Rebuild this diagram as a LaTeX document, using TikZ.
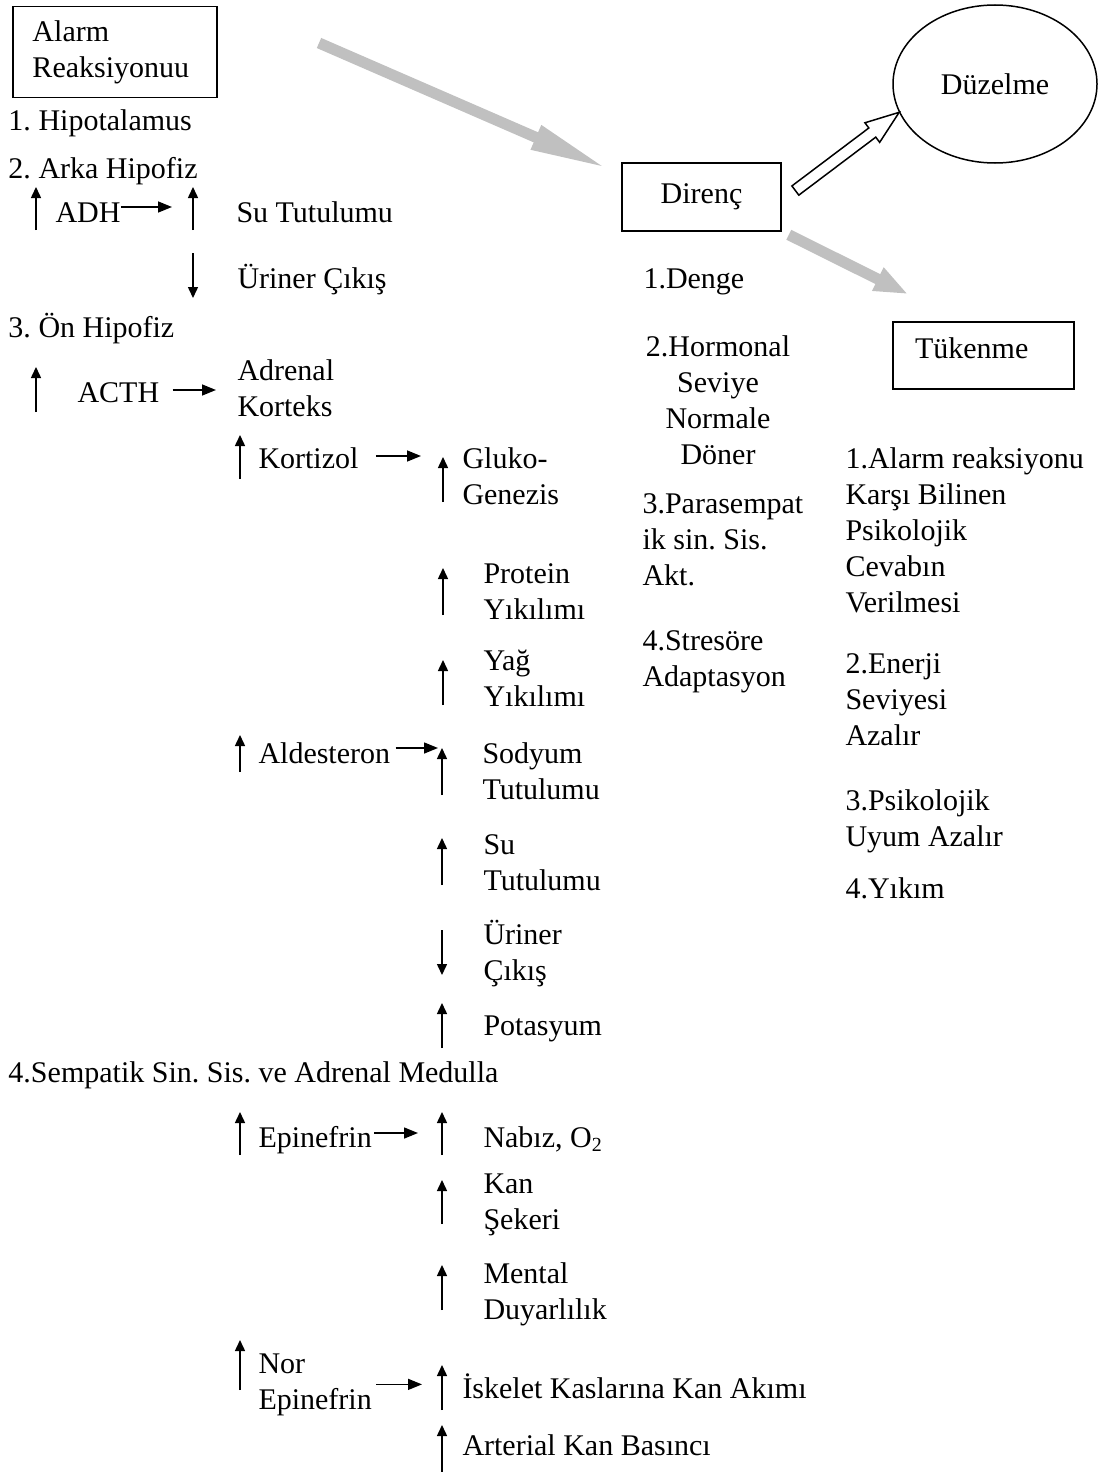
\documentclass[tikz,border=0pt]{standalone}
\usepackage{fontspec}
\setmainfont{Liberation Serif}
\usetikzlibrary{positioning, arrows.meta, calc, shapes.geometric, shapes.arrows}
\definecolor{arrowGray}{HTML}{C0C0C0}

\begin{document}
\begin{tikzpicture}[
    x=0.4pt, y=-0.4pt,
    font=\fontsize{12pt}{14.4pt}\selectfont\frenchspacing,
    box/.style={draw, line width=0.6pt, inner sep=0pt},
    txt/.style={anchor=base west, inner sep=0pt, align=left},
    upMark/.style={line width=0.6pt, -{Triangle[length=4.4pt, width=4pt]}},
    hArrow/.style={line width=0.6pt, -{Triangle[length=5.6pt, width=4.4pt]}},
    bigArrow/.style={color=arrowGray, line width=4.4pt, -{Triangle[length=#1, width=9.4pt]}},
    openArrow/.style={single arrow, draw, fill=white, line width=0.6pt, inner sep=2pt,
        single arrow head extend=2.6pt, single arrow tip angle=40}
]
\useasboundingbox (0,0) rectangle (1098,1472);

\node[box, minimum width=81.6pt, minimum height=36.4pt, text width=66pt, align=left] (alarm) at (115,52) {Alarm\\Reaksiyonuu};
\node[txt] (hipo) at (8,131) {1. Hipotalamus};
\node[txt] (arka) at (8,178) {2. Arka Hipofiz};
\node[txt] (adh) at (55,222) {ADH};
\node[txt] (suT1) at (236,222) {Su Tutulumu};
\node[txt] (urin1) at (237,288) {Üriner Çıkış};
\node[txt] (onHip) at (8,337) {3. Ön Hipofiz};
\node[txt] (acth) at (77,402) {ACTH};
\node[txt] (adrenal) at (237,416) {Adrenal\\Korteks};
\node[txt] (kortizol) at (258,468) {Kortizol};
\node[txt] (gluko) at (462,504) {Gluko-\\Genezis};
\node[txt] (protein) at (483,619) {Protein\\Yıkılımı};
\node[txt] (yag) at (483,706) {Yağ\\Yıkılımı};
\node[txt] (aldes) at (258,763) {Aldesteron};
\node[txt] (sodyum) at (482,799) {Sodyum\\Tutulumu};
\node[txt] (suT2) at (483,890) {Su\\Tutulumu};
\node[txt] (urin2) at (483,980) {Üriner\\Çıkış};
\node[txt] (potasyum) at (483,1035) {Potasyum};
\node[txt] (sempatik) at (8,1082) {4.Sempatik Sin. Sis. ve Adrenal Medulla};
\node[txt] (epi) at (258,1147) {Epinefrin};
\node[txt] (nabiz) at (483,1147) {Nabız, O\textsubscript{2}};
\node[txt] (kan) at (483,1229) {Kan\\Şekeri};
\node[txt] (mental) at (483,1319) {Mental\\Duyarlılık};
\node[txt] (nor) at (258,1409) {Nor\\Epinefrin};
\node[txt] (iskelet) at (462,1398) {İskelet Kaslarına Kan Akımı};
\node[txt] (arterial) at (462,1455) {Arterial Kan Basıncı};

\node[box, minimum width=63.6pt, minimum height=27.2pt] (direnc) at (701.5,197) {Direnç};
\node[txt] (denge) at (643,288) {1.Denge};
\node[anchor=base, inner sep=0pt, align=center] (hormonal) at (718,464) {2.Hormonal\\Seviye\\Normale\\Döner};
\node[txt] (para) at (642,585) {3.Parasempat\\ik sin. Sis.\\Akt.};
\node[txt] (stres) at (642,686) {4.Stresöre\\Adaptasyon};

\node[ellipse, draw, line width=0.6pt, minimum width=81.6pt, minimum height=63.2pt, inner sep=0pt] (duzelme) at (995,84) {Düzelme};
\node[box, minimum width=72.4pt, minimum height=26.8pt, text width=54.8pt, text depth=6pt, align=left] (tukenme) at (983.5,355.5) {Tükenme};

\node[txt] (alarmR) at (845,612) {1.Alarm reaksiyonu\\Karşı Bilinen\\Psikolojik\\Cevabın\\Verilmesi};
\node[txt] (enerji) at (845,745) {2.Enerji\\Seviyesi\\Azalır};
\node[txt] (uyum) at (845,846) {3.Psikolojik\\Uyum Azalır};
\node[txt] (yikim) at (845,898) {4.Yıkım};

\coordinate (alarmTail) at (319,43);
\draw[bigArrow=32pt] (alarmTail) -- ([shift={(-12,7)}]direnc.north west);
\draw[bigArrow=13.6pt] ([shift={(7,3)}]direnc.south east) -- ([shift={(16,-27)}]tukenme.north west);
\coordinate (direncTail) at ([shift={(13,-6)}]direnc.east);
\node[openArrow, minimum height=52pt, rotate=37, anchor=tail] (toDuzelme) at (direncTail) {};

\draw[upMark] (36,230) coordinate (mAdh) -- ++(0,-43);
\draw[upMark] (193,230) coordinate (mSu1) -- ++(0,-43);
\draw[upMark] (193,253) coordinate (mUr1) -- ++(0,45);
\draw[upMark] (36,412) coordinate (mActh) -- ++(0,-45);
\draw[upMark] (240,479) coordinate (mKort) -- ++(0,-44);
\draw[upMark] (443,502) coordinate (mGluko) -- ++(0,-45);
\draw[upMark] (443,615) coordinate (mProt) -- ++(0,-47);
\draw[upMark] (443,705) coordinate (mYag) -- ++(0,-45);
\draw[upMark] (240,772) coordinate (mAld) -- ++(0,-37);
\draw[upMark] (442,795) coordinate (mSod) -- ++(0,-47);
\draw[upMark] (442,885) coordinate (mSu2) -- ++(0,-47);
\draw[upMark] (442,930) coordinate (mUr2) -- ++(0,45);
\draw[upMark] (442,1048) coordinate (mPot) -- ++(0,-45);
\draw[upMark] (240,1155) coordinate (mEpi) -- ++(0,-43);
\draw[upMark] (442,1155) coordinate (mNab) -- ++(0,-43);
\draw[upMark] (442,1224) coordinate (mKan) -- ++(0,-44);
\draw[upMark] (442,1310) coordinate (mMent) -- ++(0,-45);
\draw[upMark] (240,1390) coordinate (mNor) -- ++(0,-50);
\draw[upMark] (442,1410) coordinate (mIsk) -- ++(0,-45);
\draw[upMark] (442,1472) coordinate (mArt) -- ++(0,-47);

\draw[hArrow, shorten >=8.4pt] ([yshift=6pt]adh.base east) coordinate (adhOut) -- (adhOut -| mSu1);
\draw[hArrow, shorten <=5.2pt, shorten >=8.4pt] ([yshift=4.8pt]acth.base east) coordinate (acthOut) -- (acthOut -| adrenal.west);
\draw[hArrow, shorten <=6.8pt, shorten >=8.8pt] ([yshift=4.8pt]kortizol.base east) coordinate (kortOut) -- (kortOut -| mGluko);
\draw[hArrow, shorten <=2pt, shorten >=1.6pt] ([yshift=6pt]aldes.base east) coordinate (aldOut) -- (aldOut -| mSod);
\draw[hArrow, shorten <=0.8pt, shorten >=9.6pt] ([yshift=5.6pt]epi.base east) coordinate (epiOut) -- (epiOut -| mNab);
\draw[hArrow, shorten <=1.6pt, shorten >=8pt] (nor.east) coordinate (norOut) -- (norOut -| mIsk);

\end{tikzpicture}
\end{document}
